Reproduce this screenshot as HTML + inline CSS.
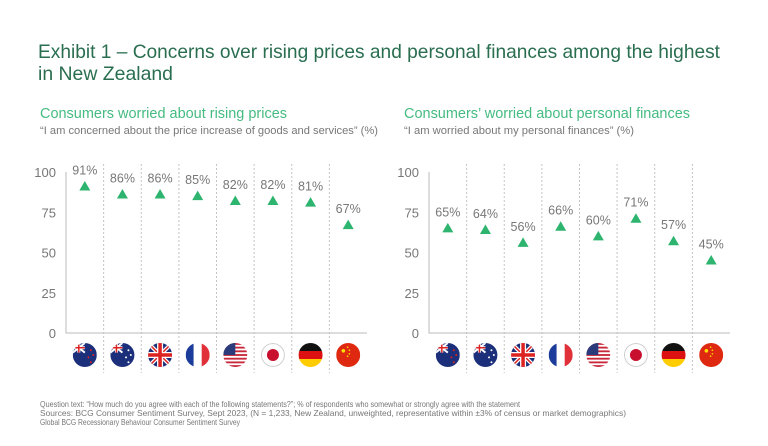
<!DOCTYPE html>
<html><head><meta charset="utf-8"><style>
html,body{margin:0;padding:0;background:#fff;}
svg{display:block;font-family:"Liberation Sans",sans-serif;}
</style></head><body>
<svg id="chart" width="768" height="446" viewBox="0 0 768 446">
<text x="38" y="58" font-size="19.5" fill="#2a6e50" textLength="682" lengthAdjust="spacingAndGlyphs">Exhibit 1 – Concerns over rising prices and personal finances among the highest</text>
<text x="38" y="80" font-size="19.5" fill="#2a6e50" textLength="135" lengthAdjust="spacingAndGlyphs">in New Zealand</text>
<text x="40" y="118" font-size="15" fill="#44bb80" textLength="247" lengthAdjust="spacingAndGlyphs">Consumers worried about rising prices</text>
<text x="40" y="134" font-size="11" fill="#777" textLength="338" lengthAdjust="spacingAndGlyphs">“I am concerned about the price increase of goods and services” (%)</text>
<text x="404" y="118" font-size="15" fill="#44bb80" textLength="286" lengthAdjust="spacingAndGlyphs">Consumers’ worried about personal finances</text>
<text x="404" y="134" font-size="11" fill="#777" textLength="230" lengthAdjust="spacingAndGlyphs">“I am worried about my personal finances” (%)</text>
<g id="left"></g>
<g id="right"></g>
<text x="40" y="407" font-size="8.5" fill="#777" textLength="480" lengthAdjust="spacingAndGlyphs">Question text: “How much do you agree with each of the following statements?”; % of respondents who somewhat or strongly agree with the statement</text>
<text x="40" y="416" font-size="8.5" fill="#777" textLength="586" lengthAdjust="spacingAndGlyphs">Sources: BCG Consumer Sentiment Survey, Sept 2023, (N = 1,233, New Zealand, unweighted, representative within ±3% of census or market demographics)</text>
<text x="40" y="425" font-size="8.5" fill="#777" textLength="200" lengthAdjust="spacingAndGlyphs">Global BCG Recessionary Behaviour Consumer Sentiment Survey</text>
</svg>
<script>
const countries = ["NZ","AU","UK","FR","US","JP","DE","CN"];
const pricesValues = [91,86,86,85,82,82,81,67];
const financesValues = [65,64,56,66,60,71,57,45];
const yTicks = [0,25,50,75,100];
const NS="http://www.w3.org/2000/svg";
function mk(tag,attrs,parent){const e=document.createElementNS(NS,tag);for(const k in attrs)e.setAttribute(k,attrs[k]);parent.appendChild(e);return e;}
function flag(g,c,cx,cy,r,id){
  const cp=mk('clipPath',{id:id},g);mk('circle',{cx:cx,cy:cy,r:r},cp);
  const f=mk('g',{'clip-path':'url(#'+id+')'},g);
  const x=cx-r,y=cy-r,w=2*r;
  if(c==="NZ"||c==="AU"){mk('rect',{x:x,y:y,width:w,height:w,fill:'#1b2f7a'},f);
    mk('path',{d:`M${x} ${y}L${cx} ${y+r*0.8}M${cx} ${y}L${x} ${y+r*0.8}`,stroke:'#fff','stroke-width':2},f);
    mk('path',{d:`M${x+r/2} ${y}V${y+r*0.8}M${x} ${y+r*0.4}H${cx}`,stroke:'#fff','stroke-width':3},f);
    mk('path',{d:`M${x+r/2} ${y}V${y+r*0.8}M${x} ${y+r*0.4}H${cx}`,stroke:'#d22','stroke-width':1.5},f);
    const sc=c==="NZ"?'#d22':'#fff';[[0.5,-0.4],[0.3,0.2],[0.7,0.0],[0.5,0.6]].forEach(p=>mk('circle',{cx:cx+p[0]*r,cy:cy+p[1]*r,r:1,fill:sc},f));}
  else if(c==="UK"){mk('rect',{x:x,y:y,width:w,height:w,fill:'#1b2f7a'},f);
    mk('path',{d:`M${x} ${y}L${x+w} ${y+w}M${x+w} ${y}L${x} ${y+w}`,stroke:'#fff','stroke-width':4},f);
    mk('path',{d:`M${x} ${y}L${x+w} ${y+w}M${x+w} ${y}L${x} ${y+w}`,stroke:'#d22','stroke-width':1.5},f);
    mk('path',{d:`M${cx} ${y}V${y+w}M${x} ${cy}H${x+w}`,stroke:'#fff','stroke-width':6},f);
    mk('path',{d:`M${cx} ${y}V${y+w}M${x} ${cy}H${x+w}`,stroke:'#d22','stroke-width':3.5},f);}
  else if(c==="FR"){mk('rect',{x:x,y:y,width:w/3,height:w,fill:'#1b3c9a'},f);mk('rect',{x:x+w/3,y:y,width:w/3,height:w,fill:'#fff'},f);mk('rect',{x:x+2*w/3,y:y,width:w/3,height:w,fill:'#e0303a'},f);}
  else if(c==="US"){mk('rect',{x:x,y:y,width:w,height:w,fill:'#fff'},f);for(let i=0;i<7;i++)mk('rect',{x:x,y:y+i*w/6.5,width:w,height:w/13,fill:'#c8283a'},f);mk('rect',{x:x,y:y,width:w*0.5,height:w*0.5,fill:'#2a3a7a'},f);}
  else if(c==="JP"){mk('rect',{x:x,y:y,width:w,height:w,fill:'#fff'},f);mk('circle',{cx:cx,cy:cy,r:r*0.5,fill:'#c8102e'},f);mk('circle',{cx:cx,cy:cy,r:r-0.5,fill:'none',stroke:'#ccc'},f);}
  else if(c==="DE"){mk('rect',{x:x,y:y,width:w,height:w/3,fill:'#111'},f);mk('rect',{x:x,y:y+w/3,width:w,height:w/3,fill:'#dd1111'},f);mk('rect',{x:x,y:y+2*w/3,width:w,height:w/3,fill:'#fc0'},f);}
  else if(c==="CN"){mk('rect',{x:x,y:y,width:w,height:w,fill:'#de2910'},f);mk('circle',{cx:cx-r*0.4,cy:cy-r*0.35,r:1.8,fill:'#ffde00'},f);[[-0.05,-0.65],[0.1,-0.4],[0.1,-0.1],[-0.05,0.1]].forEach(p=>mk('circle',{cx:cx+p[0]*r,cy:cy+p[1]*r,r:0.8,fill:'#ffde00'},f));}
}
function draw(gid,x0,x1,vals,pfx){
  const g=document.getElementById(gid);
  const y0=333,y100=172;
  const ys=v=>y0-(y0-y100)*v/100;
  const bw=(x1-x0)/countries.length;
  const xs=i=>x0+bw*(i+0.5);
  const ax=mk('path',{d:`M${x0} ${ys(100)}V${y0}H${x1}`,stroke:'#bbb','stroke-width':1,fill:'none'},g);
  
  yTicks.forEach(t=>{const e=mk('text',{x:x0-10,y:ys(t)+5,'font-size':13,fill:'#777','text-anchor':'end'},g);e.textContent=t;
    });
  for(let i=1;i<countries.length;i++){const l=mk('line',{x1:x0+bw*i,x2:x0+bw*i,y1:ys(100)-8,y2:y0+40,stroke:'#c4c4c4','stroke-dasharray':'2,2'},g);
    }
  vals.forEach((v,i)=>{const cx=xs(i),cy=ys(v);
    const m=mk('path',{d:`M${cx} ${cy-5.5}L${cx+5.5} ${cy+4}L${cx-5.5} ${cy+4}Z`,fill:'#2db46e'},g);
    
    const t=mk('text',{x:cx,y:cy-12,'font-size':12.5,fill:'#777','text-anchor':'middle'},g);t.textContent=v+'%';
    
    const fg=mk('g',{},g);
    flag(fg,countries[i],cx,355,12,pfx+'c'+i);
  });
}
draw('left',66,367,pricesValues,'prices');
draw('right',429,730,financesValues,'finances');
</script>
</body></html>
